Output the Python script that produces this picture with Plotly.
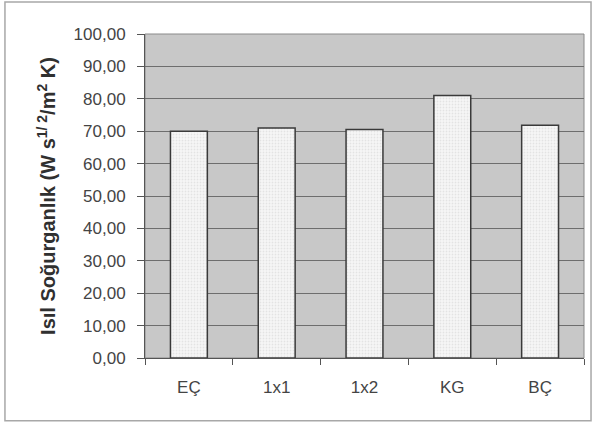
import plotly.graph_objects as go

categories = ["EÇ", "1x1", "1x2", "KG", "BÇ"]
values = [70.0, 71.0, 70.5, 81.0, 71.8]
y_ticks = [0, 10, 20, 30, 40, 50, 60, 70, 80, 90, 100]

fig = go.Figure()
fig.add_trace(go.Bar(
    x=categories,
    y=values,
    width=0.42,
    marker=dict(
        color="#f4f4f4",
        line=dict(color="#3a3a3a", width=1.5),
        pattern=dict(shape=".", fgcolor="#cfcfcf", bgcolor="#f6f6f6", size=3, solidity=0.3),
    ),
))

fig.update_layout(
    width=594, height=424,
    margin=dict(l=145, r=10, t=34, b=66),
    paper_bgcolor="white",
    plot_bgcolor="#c8c8c8",
    separators=",.",
    showlegend=False,
    font=dict(family="Liberation Sans, Arial, sans-serif", color="#3a3a3a", size=17),
    xaxis=dict(
        showgrid=False,
        showline=True, linecolor="#555555", linewidth=1,
        ticks="outside", tickson="boundaries", ticklen=6, tickcolor="#555555",
        tickfont=dict(size=17, color="#444444"),
        ticklabelstandoff=14,
    ),
    yaxis=dict(
        range=[0, 100],
        tickvals=y_ticks,
        tickformat=".2f",
        showgrid=True, gridcolor="#6e6e6e", gridwidth=1,
        showline=True, linecolor="#555555", linewidth=1,
        ticks="outside", ticklen=7, tickcolor="#555555",
        tickfont=dict(size=17, color="#444444"),
        ticklabelstandoff=8,
        zeroline=False,
        title=dict(
            text="<b>Isıl Soğurganlık (W s<sup>1/ 2</sup>/m<sup>2</sup> K)</b>",
            font=dict(size=20, color="#303030"),
            standoff=12,
        ),
    ),
    shapes=[
        dict(type="rect", xref="paper", yref="paper",
             x0=-0.319, x1=1.016, y0=-0.194, y1=1.099,
             line=dict(color="#a8a8a8", width=1.5), fillcolor="rgba(0,0,0,0)", layer="below"),
        dict(type="rect", xref="paper", yref="paper",
             x0=0, x1=1, y0=0, y1=1,
             line=dict(color="#8a8a8a", width=1), fillcolor="rgba(0,0,0,0)", layer="below"),
    ],
)

fig.write_html("out.html")
